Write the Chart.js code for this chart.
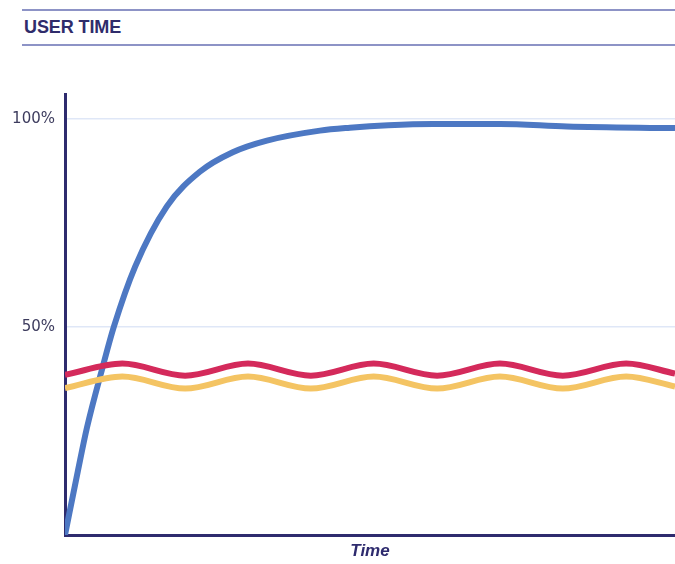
<!DOCTYPE html>
<html>
<head>
<meta charset="utf-8">
<script src="https://cdn.jsdelivr.net/npm/chart.js@4/dist/chart.umd.min.js"></script>
<style>
  html, body { margin: 0; padding: 0; background: #fff; }
  #wrap { position: relative; width: 675px; height: 564px; overflow: hidden; }
  .rule { position: absolute; left: 22px; right: 0; height: 2px; background: #8d93c6; }
  #title { position: absolute; left: 24px; top: 17px; font: bold 18px "Liberation Sans", Arial, sans-serif; color: #2f2c6b; letter-spacing: -0.1px; }
  #c { position: absolute; left: 0; top: 0; }
</style>
</head>
<body>
<div id="wrap">
  <div class="rule" style="top:9px"></div>
  <div id="title">USER TIME</div>
  <div class="rule" style="top:44px"></div>
  <canvas id="c" width="675" height="564"></canvas>
</div>
<script>
// time axis runs 0..100, y values in percent
var blueX = [0, 2.1, 3.6, 6.2, 8.0, 11.5, 16.7, 22.1, 27.5, 33.1, 41.8, 46.7, 53.0, 60.3, 71.3, 82.3, 100]
var blueY = [0, 15.3, 25.8, 40.5, 50, 64.5, 79.0, 87.3, 92.0, 94.8, 97.2, 97.9, 98.5, 98.8, 98.8, 98.2, 97.8]

var waveX = [0, 9.4, 19.7, 30.0, 40.3, 50.6, 61.0, 71.3, 81.6, 92.0, 100]
var redY = [38.5, 41.2, 38.3, 41.2, 38.3, 41.2, 38.3, 41.2, 38.3, 41.2, 38.8]
var yellowY = [35.3, 38.1, 35.2, 38.1, 35.2, 38.1, 35.2, 38.1, 35.2, 38.1, 35.7]

var yTicks = [0, 50, 100]
var navy = "#2e2b6e"

function pts(xs, ys) {
  return xs.map(function(x, i) { return {x: x, y: ys[i]} })
}

function line(data, color) {
  return {
    data: data,
    borderColor: color,
    borderWidth: 6,
    pointRadius: 0,
    fill: false,
    cubicInterpolationMode: 'monotone'
  }
}

new Chart(document.getElementById('c'), {
  type: 'line',
  data: {
    datasets: [
      line(pts(waveX, yellowY), "#f4c463"),
      line(pts(waveX, redY), "#d42a5b"),
      line(pts(blueX, blueY), "#4d78c3")
    ]
  },
  options: {
    responsive: false,
    animation: false,
    layout: { padding: { top: 94, right: 0, left: 0, bottom: 0 } },
    plugins: { legend: { display: false }, tooltip: { enabled: false } },
    scales: {
      x: {
        type: 'linear',
        min: 0,
        max: 100,
        grid: { display: false },
        border: { display: true, color: navy, width: 3 },
        ticks: { display: false },
        title: {
          display: true,
          text: 'Time',
          color: navy,
          font: { family: 'Liberation Sans', size: 17, weight: 'bold', style: 'italic' },
          padding: { top: 0, bottom: 2 }
        },
        afterFit: function(s) { s.height = 29 }
      },
      y: {
        min: 0,
        max: 106,
        afterBuildTicks: function(s) { s.ticks = yTicks.map(function(v) { return {value: v} }) },
        grid: {
          drawTicks: false,
          color: function(ctx) { return ctx.tick && ctx.tick.value === 0 ? 'rgba(0,0,0,0)' : '#dfe7f7' },
          lineWidth: 1.5
        },
        border: { display: true, color: navy, width: 3 },
        ticks: {
          padding: 10,
          color: '#3d3c5e',
          font: { family: 'DejaVu Sans', size: 15 },
          callback: function(v) { return v === 0 ? '' : v + '%' }
        },
        afterFit: function(s) { s.width = 65 }
      }
    }
  }
})
</script>
</body>
</html>
